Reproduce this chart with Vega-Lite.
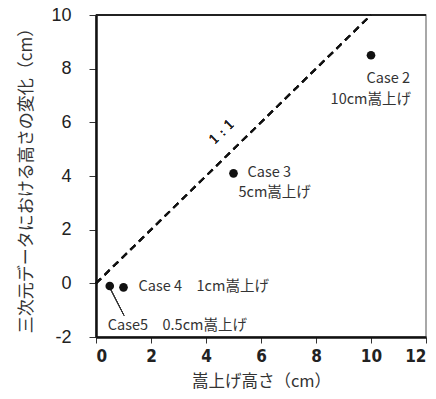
{
  "$schema": "https://vega.github.io/schema/vega-lite/v6.json",
  "width": 330,
  "height": 322,
  "autosize": {"type": "none"},
  "padding": {"left": 96, "top": 15, "right": 10, "bottom": 62},
  "background": "white",
  "config": {
    "view": {"stroke": "#8c8c8c", "strokeWidth": 1.5},
    "font": "Noto Sans CJK JP"
  },
  "data": {
    "values": [
      {"case": "Case 2", "raise": 10, "change": 8.5},
      {"case": "Case 3", "raise": 5, "change": 4.1},
      {"case": "Case 4", "raise": 1, "change": -0.15},
      {"case": "Case 5", "raise": 0.5, "change": -0.1}
    ]
  },
  "encoding": {
    "x": {
      "field": "raise", "type": "quantitative",
      "scale": {"domain": [0, 12], "nice": false, "zero": false},
      "axis": {
        "title": "嵩上げ高さ（cm）",
        "values": [0, 2, 4, 6, 8, 10, 12],
        "grid": false,
        "domainColor": "#111", "domainWidth": 2.5,
        "tickColor": "#333", "tickWidth": 1, "tickSize": 6,
        "labelFont": "DejaVu Sans Condensed", "labelFontWeight": "bold", "labelFontSize": 17,
        "labelColor": "#222", "labelPadding": 5,
        "titleFont": "Noto Sans CJK JP", "titleFontSize": 16.5, "titleFontWeight": "normal",
        "titleColor": "#333", "titlePadding": 9
      }
    },
    "y": {
      "field": "change", "type": "quantitative",
      "scale": {"domain": [-2, 10], "nice": false, "zero": false},
      "axis": {
        "title": "三次元データにおける高さの変化（cm）",
        "values": [-2, 0, 2, 4, 6, 8, 10],
        "labelExpr": "replace(datum.label, '−', '-')",
        "grid": false,
        "domainColor": "#111", "domainWidth": 2.5,
        "tickColor": "#333", "tickWidth": 1, "tickSize": 7,
        "labelFont": "Liberation Sans", "labelFontSize": 18, "labelColor": "#222",
        "labelPadding": 18,
        "titleFont": "Noto Sans CJK JP", "titleFontSize": 17, "titleFontWeight": "normal",
        "titleColor": "#333", "titlePadding": 15
      }
    }
  },
  "layer": [
    {
      "mark": {"type": "rule", "color": "#222", "strokeWidth": 1.5},
      "encoding": {"x": {"datum": 0}, "x2": {"datum": 12}, "y": {"datum": 10}}
    },
    {
      "mark": {"type": "rule", "color": "#111", "strokeWidth": 2, "strokeDash": [7, 5]},
      "encoding": {"x": {"datum": 0}, "y": {"datum": 0}, "x2": {"datum": 10}, "y2": {"datum": 10}}
    },
    {
      "mark": {"type": "text", "text": "1 : 1", "font": "DejaVu Serif", "fontSize": 13, "angle": 316, "color": "#222"},
      "encoding": {"x": {"datum": 4.58}, "y": {"datum": 5.64}}
    },
    {
      "mark": {"type": "rule", "color": "#333", "strokeWidth": 1},
      "encoding": {"x": {"datum": 0.52}, "y": {"datum": -0.2}, "x2": {"datum": 1.02}, "y2": {"datum": -1.2}}
    },
    {
      "mark": {"type": "point", "filled": true, "shape": "circle", "size": 75, "color": "#111", "opacity": 1}
    },
    {
      "transform": [{"filter": "datum.case === 'Case 2'"}],
      "layer": [
        {"mark": {"type": "text", "text": "Case 2", "align": "right", "fontSize": 14.5, "color": "#333", "dx": 39, "dy": 24}},
        {"mark": {"type": "text", "text": "10cm嵩上げ", "align": "right", "fontSize": 14.5, "color": "#333", "dx": 40, "dy": 45}}
      ]
    },
    {
      "transform": [{"filter": "datum.case === 'Case 3'"}],
      "layer": [
        {"mark": {"type": "text", "text": "Case 3", "align": "left", "fontSize": 14.5, "color": "#333", "dx": 14, "dy": 0}},
        {"mark": {"type": "text", "text": "5cm嵩上げ", "align": "left", "fontSize": 14.5, "color": "#333", "dx": 5, "dy": 20}}
      ]
    },
    {
      "transform": [{"filter": "datum.case === 'Case 4'"}],
      "mark": {"type": "text", "text": "Case 4　1cm嵩上げ", "align": "left", "fontSize": 14.5, "color": "#333", "dx": 15, "dy": 0}
    },
    {
      "transform": [{"filter": "datum.case === 'Case 5'"}],
      "mark": {"type": "text", "text": "Case5　0.5cm嵩上げ", "align": "left", "fontSize": 14.5, "color": "#333", "dx": -2, "dy": 40}
    }
  ]
}
